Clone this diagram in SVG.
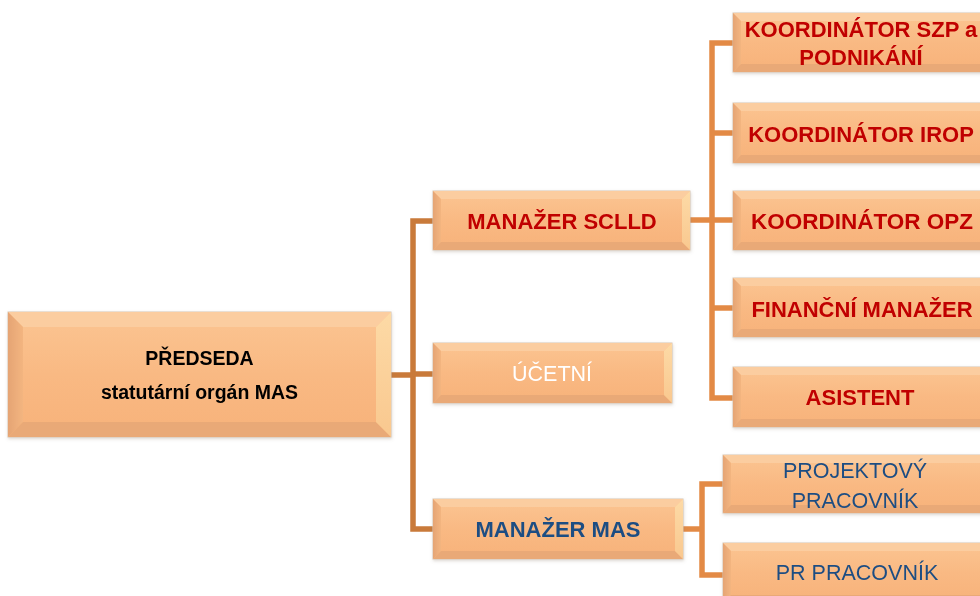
<svg xmlns="http://www.w3.org/2000/svg" width="980" height="596" viewBox="0 0 980 596">
<defs>
<linearGradient id="gFace" x1="0" y1="0" x2="0" y2="1">
<stop offset="0" stop-color="#FBC592"/>
<stop offset="0.5" stop-color="#F9B983"/>
<stop offset="1" stop-color="#F7B27A"/>
</linearGradient>
<linearGradient id="gLeft" x1="0" y1="0" x2="1" y2="0">
<stop offset="0" stop-color="#E5A474"/>
<stop offset="1" stop-color="#F3B580"/>
</linearGradient>
<linearGradient id="gRight" x1="0" y1="0" x2="0" y2="1">
<stop offset="0" stop-color="#FDDAA6"/>
<stop offset="1" stop-color="#F9C88F"/>
</linearGradient>
<filter id="sh" x="-5%" y="-15%" width="110%" height="135%">
<feDropShadow dx="0.5" dy="1.5" stdDeviation="1.8" flood-color="#8A7A6A" flood-opacity="0.3"/>
</filter>
</defs>
<style>
.face{fill:url(#gFace);stroke:#D8C6B4;stroke-width:1}
.bt{fill:#FBCDA0}
.bl{fill:url(#gLeft)}
.bb{fill:#E9A977}
.br{fill:url(#gRight)}
.c1{fill:none;stroke:#C97A3A;stroke-width:5.5}
.c2{fill:none;stroke:#E38A45;stroke-width:5.5}
text{font-family:"Liberation Sans",Arial,sans-serif;text-anchor:middle}
.red{font-weight:bold;font-size:22px;fill:#C00000}
.blueb{font-weight:bold;font-size:22px;fill:#1F4E83}
.bluer{font-size:21.5px;fill:#1F4E83}
.white{font-size:21.5px;fill:#FFFFFF}
.black{font-weight:bold;font-size:19.5px;fill:#000000}
</style>
<rect width="980" height="596" fill="#FFFFFF"/>
<g id="connectors">
<path class="c1" d="M391,375 H413"/>
<path class="c1" d="M433,221 H413 V529 H433"/>
<path class="c1" d="M413,374 H433"/>
<path class="c2" d="M690,220 H712"/>
<path class="c2" d="M733,43 H712 V398 H733"/>
<path class="c2" d="M712,133 H733 M712,220 H733 M712,308 H733"/>
<path class="c2" d="M683,529 H702"/>
<path class="c2" d="M723,484 H702 V575 H723"/>
</g>
<g id="predseda" filter="url(#sh)">
<rect class="face" x="8" y="312" width="383" height="125"/>
<polygon class="bt" points="8,312 391,312 376,327 23,327"/>
<polygon class="bl" points="8,312 23,327 23,422 8,437"/>
<polygon class="bb" points="8,437 23,422 376,422 391,437"/>
<polygon class="br" points="391,312 391,437 376,422 376,327"/>
<text class="black" x="199.5" y="365">PŘEDSEDA</text>
<text class="black" x="199.5" y="399">statutární orgán MAS</text>
</g>
<g id="manazer-sclld" filter="url(#sh)">
<rect class="face" x="433" y="191" width="257" height="59"/>
<polygon class="bt" points="433,191 690,191 682,199 441,199"/>
<polygon class="bl" points="433,191 441,199 441,242 433,250"/>
<polygon class="bb" points="433,250 441,242 682,242 690,250"/>
<polygon class="br" points="690,191 690,250 682,242 682,199"/>
<text class="red" x="562" y="229">MANAŽER SCLLD</text>
</g>
<g id="ucetni" filter="url(#sh)">
<rect class="face" x="433" y="343" width="239" height="60"/>
<polygon class="bt" points="433,343 672,343 664,351 441,351"/>
<polygon class="bl" points="433,343 441,351 441,395 433,403"/>
<polygon class="bb" points="433,403 441,395 664,395 672,403"/>
<polygon class="br" points="672,343 672,403 664,395 664,351"/>
<text class="white" x="552" y="381">ÚČETNÍ</text>
</g>
<g id="manazer-mas" filter="url(#sh)">
<rect class="face" x="433" y="499" width="250" height="60"/>
<polygon class="bt" points="433,499 683,499 675,507 441,507"/>
<polygon class="bl" points="433,499 441,507 441,551 433,559"/>
<polygon class="bb" points="433,559 441,551 675,551 683,559"/>
<polygon class="br" points="683,499 683,559 675,551 675,507"/>
<text class="blueb" x="558" y="537">MANAŽER MAS</text>
</g>
<g id="koordinator-szp" filter="url(#sh)">
<rect class="face" x="733" y="13" width="256" height="59"/>
<polygon class="bt" points="733,13 989,13 981,21 741,21"/>
<polygon class="bl" points="733,13 741,21 741,64 733,72"/>
<polygon class="bb" points="733,72 741,64 981,64 989,72"/>
<polygon class="br" points="989,13 989,72 981,64 981,21"/>
<text class="red" x="861" y="37">KOORDINÁTOR SZP a</text>
<text class="red" x="861" y="65">PODNIKÁNÍ</text>
</g>
<g id="koordinator-irop" filter="url(#sh)">
<rect class="face" x="733" y="103" width="256" height="60"/>
<polygon class="bt" points="733,103 989,103 981,111 741,111"/>
<polygon class="bl" points="733,103 741,111 741,155 733,163"/>
<polygon class="bb" points="733,163 741,155 981,155 989,163"/>
<polygon class="br" points="989,103 989,163 981,155 981,111"/>
<text class="red" x="861" y="142">KOORDINÁTOR IROP</text>
</g>
<g id="koordinator-opz" filter="url(#sh)">
<rect class="face" x="733" y="191" width="256" height="59"/>
<polygon class="bt" points="733,191 989,191 981,199 741,199"/>
<polygon class="bl" points="733,191 741,199 741,242 733,250"/>
<polygon class="bb" points="733,250 741,242 981,242 989,250"/>
<polygon class="br" points="989,191 989,250 981,242 981,199"/>
<text class="red" x="862" y="229" textLength="222" lengthAdjust="spacingAndGlyphs">KOORDINÁTOR OPZ</text>
</g>
<g id="financni-manazer" filter="url(#sh)">
<rect class="face" x="733" y="278" width="256" height="59"/>
<polygon class="bt" points="733,278 989,278 981,286 741,286"/>
<polygon class="bl" points="733,278 741,286 741,329 733,337"/>
<polygon class="bb" points="733,337 741,329 981,329 989,337"/>
<polygon class="br" points="989,278 989,337 981,329 981,286"/>
<text class="red" x="862" y="317">FINANČNÍ MANAŽER</text>
</g>
<g id="asistent" filter="url(#sh)">
<rect class="face" x="733" y="367" width="256" height="60"/>
<polygon class="bt" points="733,367 989,367 981,375 741,375"/>
<polygon class="bl" points="733,367 741,375 741,419 733,427"/>
<polygon class="bb" points="733,427 741,419 981,419 989,427"/>
<polygon class="br" points="989,367 989,427 981,419 981,375"/>
<text class="red" x="860" y="405">ASISTENT</text>
</g>
<g id="projektovy-pracovnik" filter="url(#sh)">
<rect class="face" x="723" y="455" width="266" height="58"/>
<polygon class="bt" points="723,455 989,455 981,463 731,463"/>
<polygon class="bl" points="723,455 731,463 731,505 723,513"/>
<polygon class="bb" points="723,513 731,505 981,505 989,513"/>
<polygon class="br" points="989,455 989,513 981,505 981,463"/>
<text class="bluer" x="855" y="478">PROJEKTOVÝ</text>
<text class="bluer" x="855" y="508">PRACOVNÍK</text>
</g>
<g id="pr-pracovnik" filter="url(#sh)">
<rect class="face" x="723" y="543" width="266" height="60"/>
<polygon class="bt" points="723,543 989,543 981,551 731,551"/>
<polygon class="bl" points="723,543 731,551 731,595 723,603"/>
<polygon class="bb" points="723,603 731,595 981,595 989,603"/>
<polygon class="br" points="989,543 989,603 981,595 981,551"/>
<text class="bluer" x="857" y="580">PR PRACOVNÍK</text>
</g>
</svg>
